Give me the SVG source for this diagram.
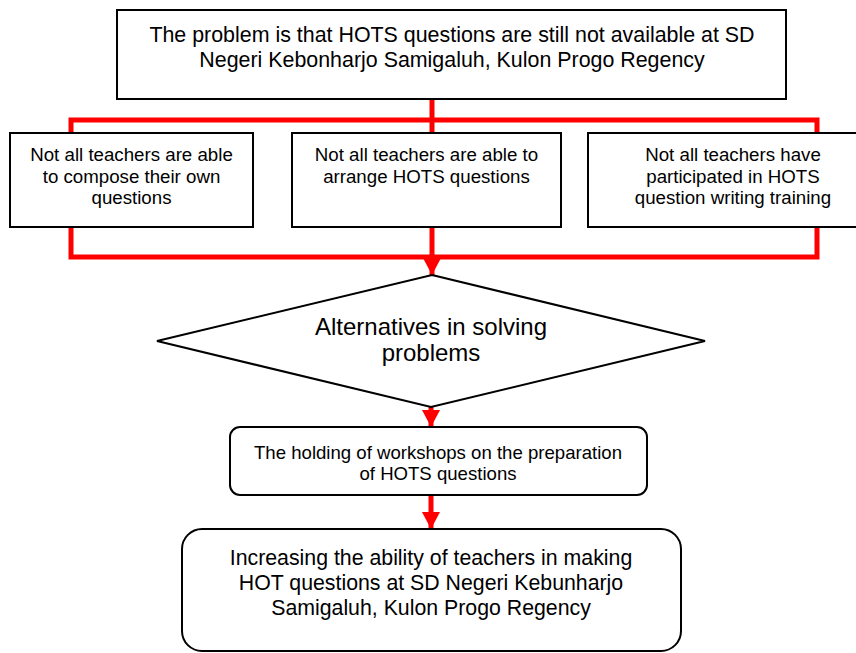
<svg xmlns="http://www.w3.org/2000/svg" width="856" height="653" viewBox="0 0 856 653">
<style>
.box{fill:#fff;stroke:#000;stroke-width:2}
.t{font-family:"Liberation Sans",Arial,sans-serif;fill:#000;text-anchor:middle}
.c{fill:none;stroke:#ff0000;stroke-width:5;stroke-linejoin:miter}
</style>
<defs>
<marker id="ah" markerUnits="userSpaceOnUse" markerWidth="18" markerHeight="20" refX="17" refY="9" orient="auto" viewBox="0 0 18 18">
<path d="M0 0 L17 9 L0 18 Z" fill="#ff0000"/>
</marker>
</defs>
<rect width="856" height="653" fill="#fff"/>
<g id="connectors">
<path class="c" d="M432 99 V133"/>
<path class="c" d="M71 133 V120 H817 V133"/>
<path class="c" d="M71 227 V257 H817 V227"/>
<path class="c" d="M432 227 V275" marker-end="url(#ah)"/>
<path class="c" d="M431 407 V427" marker-end="url(#ah)"/>
<path class="c" d="M431 495 V529" marker-end="url(#ah)"/>
</g>
<g id="problem">
<rect class="box" x="117" y="10" width="669" height="89"/>
<text class="t" font-size="21.4" x="452" y="42">The problem is that HOTS questions are still not available at SD</text>
<text class="t" font-size="21.4" x="452" y="67">Negeri Kebonharjo Samigaluh, Kulon Progo Regency</text>
</g>
<g id="cause1">
<rect class="box" x="10" y="133" width="243" height="94"/>
<text class="t" font-size="18.7" x="131.5" y="161">Not all teachers are able</text>
<text class="t" font-size="18.7" x="131.5" y="183">to compose their own</text>
<text class="t" font-size="18.7" x="131.5" y="204">questions</text>
</g>
<g id="cause2">
<rect class="box" x="292" y="133" width="269" height="94"/>
<text class="t" font-size="18.7" x="426.5" y="161">Not all teachers are able to</text>
<text class="t" font-size="18.7" x="426.5" y="183">arrange HOTS questions</text>
</g>
<g id="cause3">
<rect class="box" x="588" y="133" width="290" height="94"/>
<text class="t" font-size="18.7" x="733" y="161">Not all teachers have</text>
<text class="t" font-size="18.7" x="733" y="183">participated in HOTS</text>
<text class="t" font-size="18.7" x="733" y="204">question writing training</text>
</g>
<g id="alternatives">
<polygon class="box" points="432,275 705,341 431,407 157,341"/>
<text class="t" font-size="24" x="431" y="335">Alternatives in solving</text>
<text class="t" font-size="24" x="431" y="361">problems</text>
</g>
<g id="workshop">
<rect class="box" x="230" y="427" width="417" height="68" rx="10"/>
<text class="t" font-size="18.6" x="438" y="459">The holding of workshops on the preparation</text>
<text class="t" font-size="18.6" x="438" y="480">of HOTS questions</text>
</g>
<g id="result">
<rect class="box" x="182" y="529" width="499" height="122" rx="20"/>
<text class="t" font-size="21.3" x="431" y="565">Increasing the ability of teachers in making</text>
<text class="t" font-size="21.3" x="431" y="590">HOT questions at SD Negeri Kebunharjo</text>
<text class="t" font-size="21.3" x="431" y="615">Samigaluh, Kulon Progo Regency</text>
</g>
</svg>
